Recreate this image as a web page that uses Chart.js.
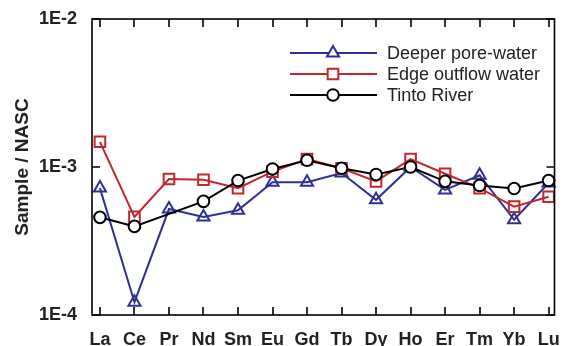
<!DOCTYPE html>
<html>
<head>
<meta charset="utf-8">
<script src="https://cdn.jsdelivr.net/npm/chart.js@4/dist/chart.umd.min.js"></script>
<style>
  html, body { margin: 0; padding: 0; background: #fff; }
  canvas { display: block; }
</style>
</head>
<body>
<canvas id="reeChart" width="564" height="346"></canvas>
<script>
// REE patterns normalised to NASC
const elements = ["La", "Ce", "Pr", "Nd", "Sm", "Eu", "Gd", "Tb", "Dy", "Ho", "Er", "Tm", "Yb", "Lu"];
const deeperPoreWater = [7.2e-4, 1.22e-4, 5.2e-4, 4.6e-4, 5.1e-4, 7.9e-4, 7.9e-4, 9.1e-4, 6.0e-4, 1.0e-3, 7.0e-4, 8.8e-4, 4.4e-4, 7.8e-4];
const edgeOutflowWater = [1.48e-3, 4.6e-4, 8.3e-4, 8.2e-4, 7.2e-4, 9.3e-4, 1.13e-3, 9.8e-4, 8.0e-4, 1.13e-3, 9.0e-4, 7.2e-4, 5.4e-4, 6.3e-4];
const tintoRiver = [4.57e-4, 3.97e-4, null, 5.86e-4, 8.1e-4, 9.7e-4, 1.11e-3, 9.8e-4, 8.9e-4, 1.0e-3, 8.0e-4, 7.5e-4, 7.15e-4, 8.1e-4];
const yTickValues = [1e-4, 1e-3, 1e-2];

const toPoints = (vals) => vals.map((v, i) => ({ x: i, y: v }));
const FONT = "'Liberation Sans', Arial, sans-serif";

// inward tick marks on all four sides, frame and the line+marker legend
const framePlugin = {
  id: "frame",
  afterDraw(chart) {
    const { ctx, chartArea: a, scales } = chart;
    ctx.save();
    ctx.strokeStyle = "#000";
    ctx.lineWidth = 1.6;
    ctx.strokeRect(a.left, a.top, a.right - a.left, a.bottom - a.top);
    ctx.beginPath();
    elements.forEach((_, i) => {
      const x = Math.round(scales.x.getPixelForValue(i));
      ctx.moveTo(x, a.bottom);
      ctx.lineTo(x, a.bottom - 8);
      ctx.moveTo(x, a.top);
      ctx.lineTo(x, a.top + 8);
    });
    yTickValues.forEach((v) => {
      const y = Math.round(scales.y.getPixelForValue(v));
      ctx.moveTo(a.left, y);
      ctx.lineTo(a.left + 8, y);
      ctx.moveTo(a.right, y);
      ctx.lineTo(a.right - 8, y);
    });
    ctx.stroke();

    // legend
    ctx.font = "18px " + FONT;
    ctx.textBaseline = "middle";
    const rowsY = [53, 74, 95];
    chart.data.datasets.forEach((ds, i) => {
      const y = rowsY[i];
      ctx.strokeStyle = ds.borderColor;
      ctx.lineWidth = ds.borderWidth;
      ctx.beginPath();
      ctx.moveTo(290, y);
      ctx.lineTo(377, y);
      ctx.stroke();
      ctx.fillStyle = "#fff";
      ctx.lineWidth = ds.pointBorderWidth;
      Chart.helpers.drawPoint(ctx, {
        pointStyle: ds.pointStyle,
        radius: ds.pointRadius,
        rotation: 0,
        borderWidth: ds.pointBorderWidth
      }, 333, y);
      ctx.fillStyle = "#222";
      ctx.fillText(ds.label, 387, y + 1);
    });
    ctx.restore();
  }
};

new Chart(document.getElementById("reeChart"), {
  type: "line",
  data: {
    datasets: [
      {
        label: "Deeper pore-water",
        data: toPoints(deeperPoreWater),
        borderColor: "#2e3192",
        backgroundColor: "#fff",
        borderWidth: 2,
        pointStyle: "triangle",
        pointRadius: 7,
        pointBorderWidth: 2,
        pointBackgroundColor: "rgba(255,255,255,0)",
        order: 3
      },
      {
        label: "Edge outflow water",
        data: toPoints(edgeOutflowWater),
        borderColor: "#c1272d",
        backgroundColor: "#fff",
        borderWidth: 2,
        pointStyle: "rect",
        pointRadius: 7.5,
        pointBorderWidth: 2,
        pointBackgroundColor: "rgba(255,255,255,0)",
        order: 2
      },
      {
        label: "Tinto River",
        data: toPoints(tintoRiver),
        borderColor: "#000",
        backgroundColor: "#fff",
        borderWidth: 2,
        pointStyle: "circle",
        pointRadius: 5.8,
        pointBorderWidth: 2,
        pointBackgroundColor: "#fff",
        spanGaps: true,
        order: 1
      }
    ]
  },
  options: {
    responsive: false,
    animation: false,
    clip: false,
    layout: { padding: { top: 19, right: 5, left: 0, bottom: 0 } },
    plugins: {
      legend: { display: false },
      tooltip: { enabled: false }
    },
    scales: {
      x: {
        type: "linear",
        min: -0.23,
        max: 13.17,
        grid: { display: false },
        border: { display: false },
        afterBuildTicks: (scale) => { scale.ticks = elements.map((_, i) => ({ value: i })); },
        afterFit: (scale) => {
          scale.height = 31;
          scale.paddingLeft = 0;
          scale.paddingRight = 0;
        },
        ticks: {
          autoSkip: false,
          maxRotation: 0,
          padding: 6,
          color: "#222",
          font: { family: FONT, size: 18, weight: "bold" },
          callback: (v) => elements[v]
        }
      },
      y: {
        type: "logarithmic",
        min: 1e-4,
        max: 1e-2,
        grid: { display: false },
        border: { display: false },
        afterBuildTicks: (scale) => { scale.ticks = yTickValues.map((v) => ({ value: v })); },
        afterFit: (scale) => {
          scale.width = 92;
          scale.paddingTop = 0;
          scale.paddingBottom = 0;
        },
        ticks: {
          padding: 7,
          color: "#222",
          font: { family: FONT, size: 18, weight: "bold" },
          callback: (v) => "1E" + Math.round(Math.log10(v))
        },
        title: {
          display: true,
          text: "Sample / NASC",
          color: "#222",
          padding: { top: 11, bottom: 0 },
          font: { family: FONT, size: 19, weight: "bold" }
        }
      }
    }
  },
  plugins: [framePlugin]
});
</script>
</body>
</html>
